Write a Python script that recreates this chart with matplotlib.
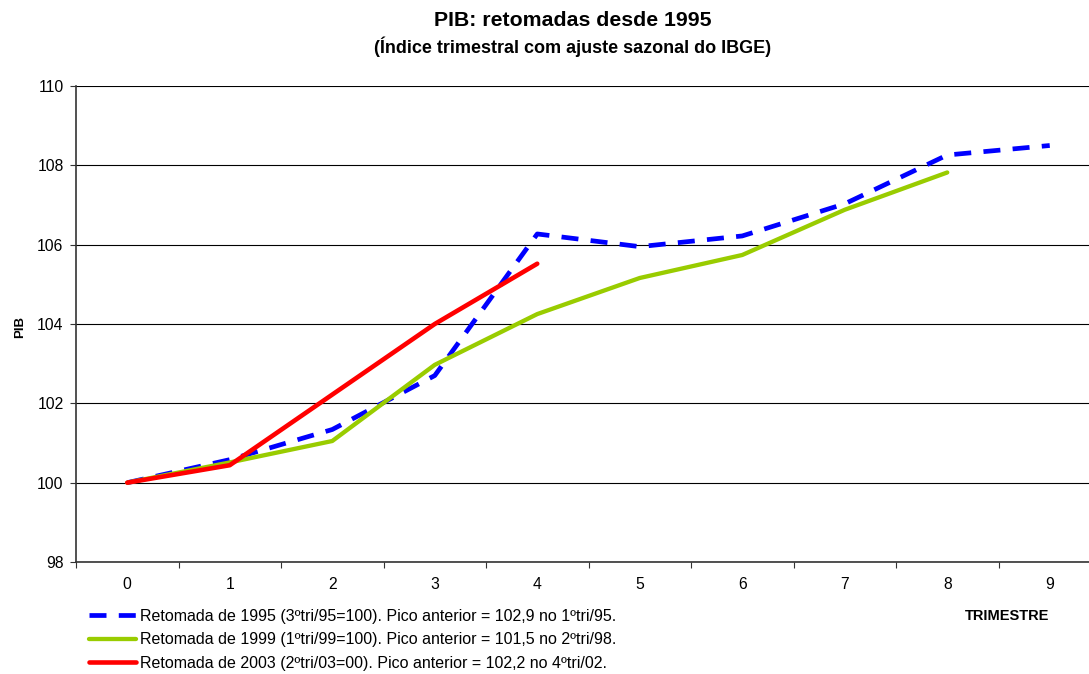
import matplotlib
matplotlib.use("Agg")
import matplotlib.pyplot as plt
from matplotlib.ticker import FixedLocator, NullFormatter

plt.rcParams['font.family'] = ['Liberation Sans', 'DejaVu Sans']

# Data
trimestres = [0, 1, 2, 3, 4, 5, 6, 7, 8, 9]
pib_1995 = [100.0, 100.58, 101.34, 102.7, 106.27, 105.95, 106.22, 107.03, 108.26, 108.5]
trim_1999 = [0, 1, 2, 3, 4, 5, 6, 7, 8]
pib_1999 = [100.0, 100.51, 101.05, 102.97, 104.25, 105.16, 105.74, 106.88, 107.82]
trim_2003 = [0, 1, 2, 3, 4]
pib_2003 = [100.0, 100.44, 102.22, 104.0, 105.52]

labels = [
    "Retomada de 1995 (3ºtri/95=100). Pico anterior = 102,9 no 1ºtri/95.",
    "Retomada de 1999 (1ºtri/99=100). Pico anterior = 101,5 no 2ºtri/98.",
    "Retomada de 2003 (2ºtri/03=00). Pico anterior = 102,2 no 4ºtri/02.",
]
yticks = [98, 100, 102, 104, 106, 108, 110]

fig = plt.figure(figsize=(10.89, 6.74), dpi=100)
ax = fig.add_axes([76 / 1089, 112 / 674, (1101 - 76) / 1089, 476 / 674])

l1, = ax.plot(trimestres, pib_1995, color='#0000FF', lw=3.4, dashes=(3.6, 2.6),
              dash_capstyle='butt', label=labels[0], zorder=3)
l2, = ax.plot(trim_1999, pib_1999, color='#99CC00', lw=3.1, solid_capstyle='round',
              solid_joinstyle='round', label=labels[1], zorder=4)
l3, = ax.plot(trim_2003, pib_2003, color='#FF0000', lw=3.3, solid_capstyle='round',
              solid_joinstyle='round', label=labels[2], zorder=5)

ax.set_xlim(-0.5, 9.5)
ax.set_ylim(98, 110)
ax.set_yticks(yticks)
ax.set_yticklabels([str(v) for v in yticks])
ax.yaxis.grid(True, color='black', lw=0.8)
ax.set_axisbelow(True)

ax.xaxis.set_major_locator(FixedLocator([i - 0.5 for i in range(11)]))
ax.xaxis.set_major_formatter(NullFormatter())
ax.xaxis.set_minor_locator(FixedLocator(trimestres))
ax.set_xticklabels([str(t) for t in trimestres], minor=True)
ax.tick_params(axis='x', which='major', direction='out', length=4, width=0.8, color='#333333')
ax.tick_params(axis='x', which='minor', length=0, pad=11, labelsize=11.3)
ax.tick_params(axis='y', direction='out', length=4, width=0.8, color='#333333', pad=5,
               labelsize=11.3)

for s in ['top', 'right']:
    ax.spines[s].set_visible(False)
for s in ['left', 'bottom']:
    ax.spines[s].set_color('#333333')
    ax.spines[s].set_linewidth(1.2)

fig.text(573 / 1089, 1 - 21 / 674, "PIB: retomadas desde 1995", ha='center', va='center',
         fontsize=15.3, fontweight='bold')
fig.text(573 / 1089, 1 - 47 / 674, "(Índice trimestral com ajuste sazonal do IBGE)", ha='center',
         va='center', fontsize=13, fontweight='bold')
fig.text(20 / 1089, 1 - 327 / 674, "PIB", rotation=90, ha='center', va='center',
         fontsize=9.5, fontweight='bold')
fig.text(1007 / 1089, 1 - 616 / 674, "TRIMESTRE", ha='center', va='center',
         fontsize=10.5, fontweight='bold')

fig.legend(handles=[l1, l2, l3], loc='upper left', bbox_to_anchor=(89 / 1089, 1 - 609 / 674),
           frameon=False, fontsize=11.5, handlelength=2.95, handletextpad=0.25,
           labelspacing=0.52, borderaxespad=0, borderpad=0)

fig.savefig("out.png", dpi=100)
